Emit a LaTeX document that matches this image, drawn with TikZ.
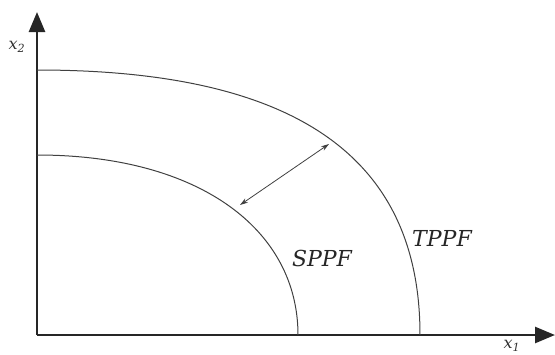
\documentclass[tikz,border=0pt]{standalone}
\usepackage{fontspec}
\setmainfont{DejaVu Serif}
\newfontfamily\figfont{DejaVu Serif}
\usetikzlibrary{arrows.meta}
\begin{document}
\begin{tikzpicture}[x=1pt,y=-1pt]
\tikzstyle{axis}=[draw,black!85,line width=2.6pt,-{Triangle[length=20pt,width=16pt]}]
\tikzstyle{frontier}=[draw,black!75,line width=1pt]
\tikzstyle{shiftarrow}=[draw,black!75,line width=0.8pt,{Stealth[length=8pt,width=5pt]}-{Stealth[length=8pt,width=5pt]}]
\tikzstyle{curvelabel}=[font=\figfont\fontsize{22}{26}\selectfont\itshape,black!85,inner sep=0pt]
\tikzstyle{axlabel}=[font=\figfont\fontsize{16}{18}\selectfont\itshape,black!80,inner sep=0pt]
\useasboundingbox (0,0) rectangle (555,354);
\coordinate (O) at (37,335);
\coordinate (ytop) at (37,12);
\coordinate (xend) at (555,335);
\coordinate (t0) at (37,70);
\coordinate (t1) at (420,335);
\coordinate (s0) at (37,155);
\coordinate (s1) at (298,335);
\coordinate (sp) at (240,205);
\coordinate (tp) at (329,144);
\path[axis] (O) -- (ytop);
\path[axis] (O) -- (xend);
\path[frontier] (t0) .. controls (300,70) and (420,160) .. (t1);
\path[frontier] (s0) .. controls (200,155) and (298,230) .. (s1);
\path[shiftarrow] (sp) -- (tp);
\node[curvelabel] (spplab) at (322,258) {SPPF};
\node[curvelabel] (tpplab) at (442,238) {TPPF};
\node[axlabel] (x2lab) at (17,47) {x\textsubscript{2}};
\node[axlabel] (x1lab) at (512,346) {x\textsubscript{1}};
\end{tikzpicture}
\end{document}
